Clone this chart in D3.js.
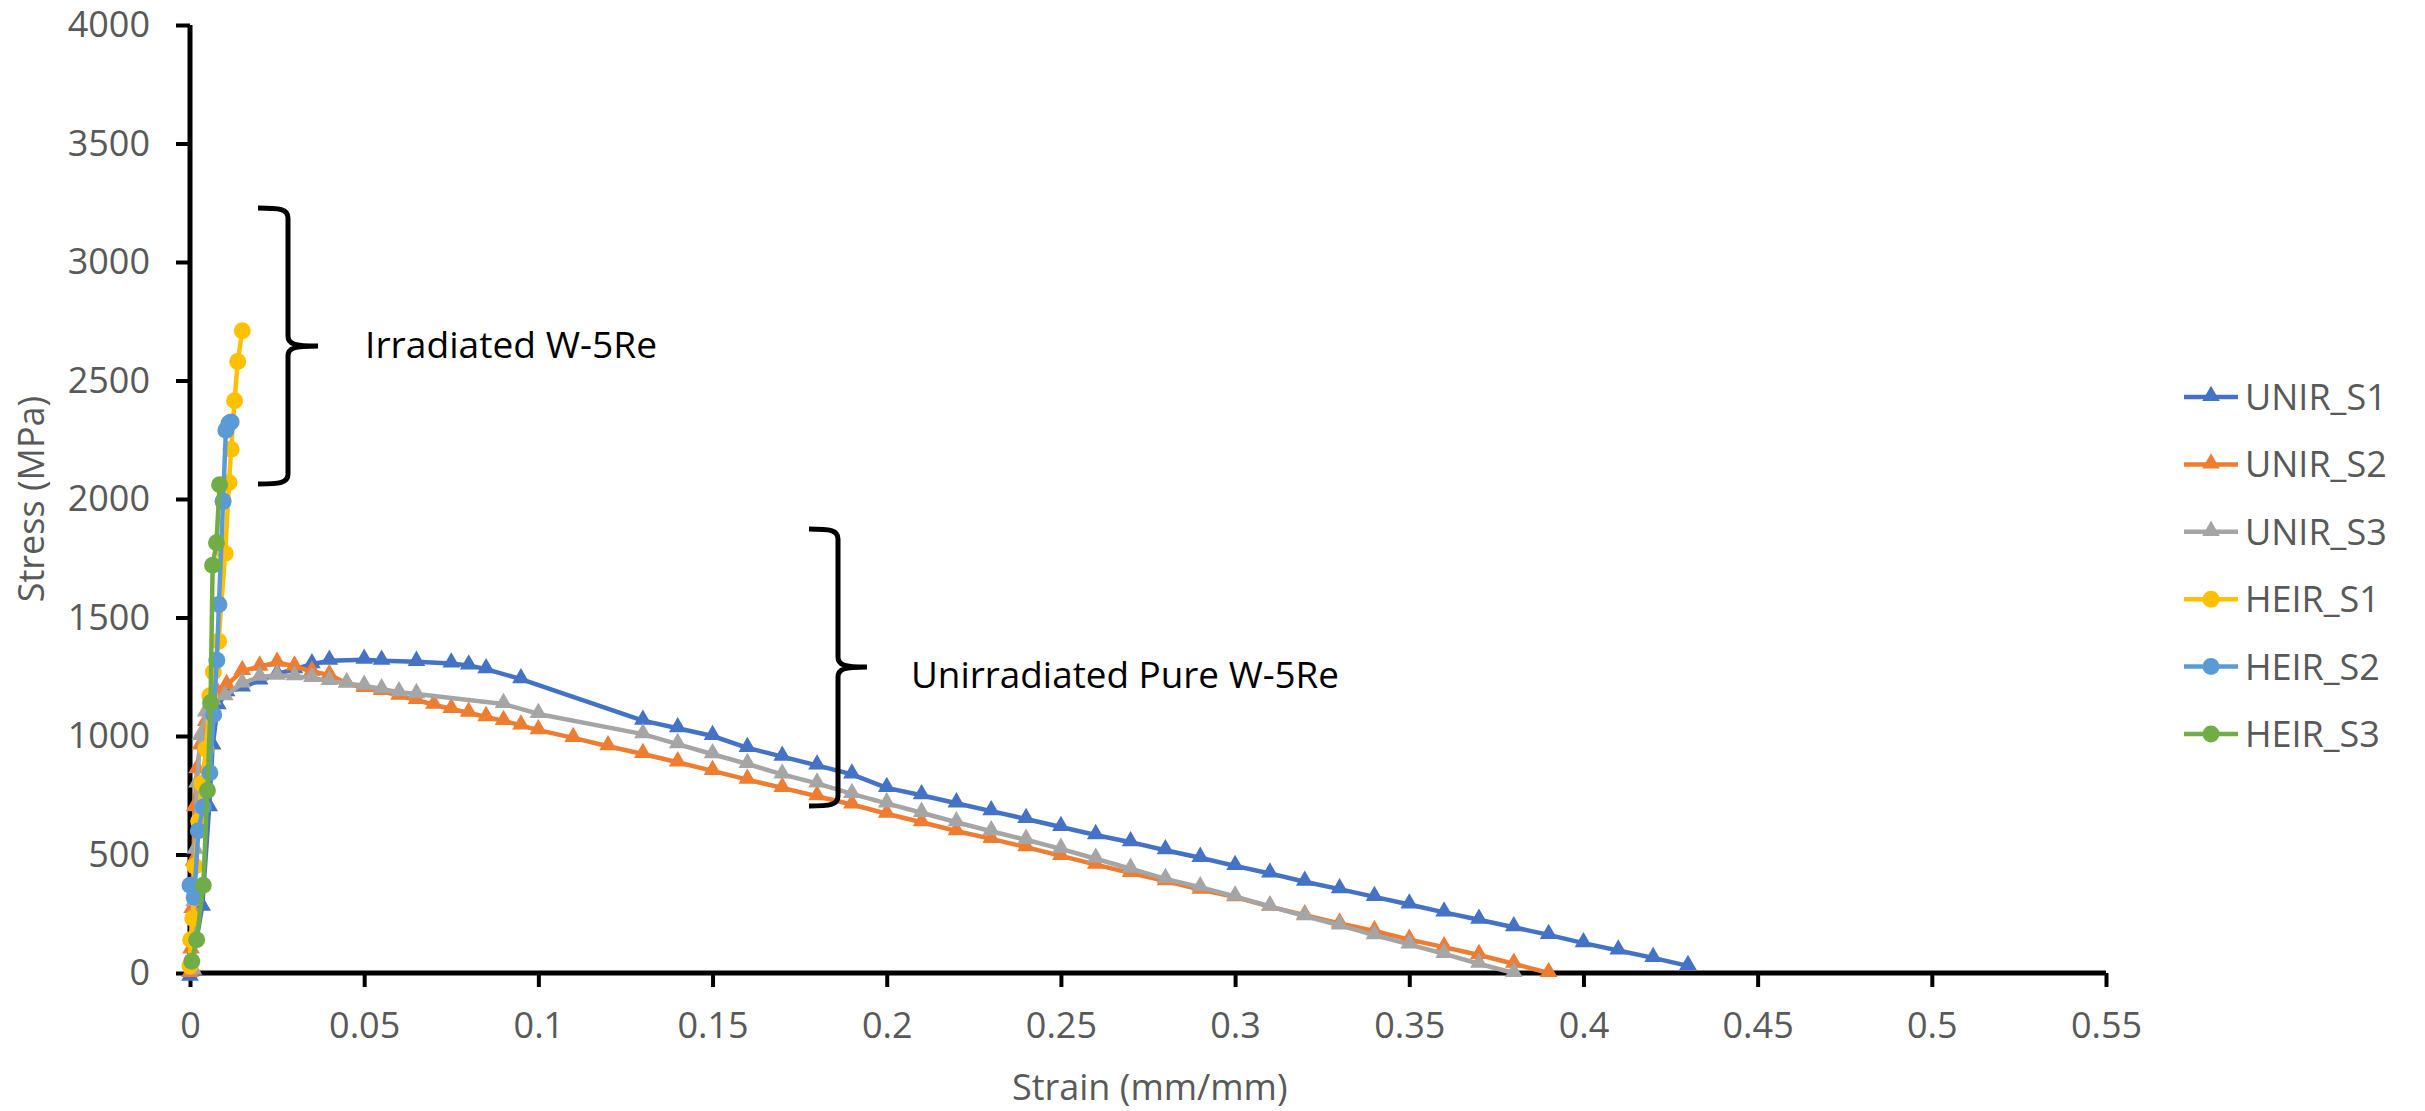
<!DOCTYPE html>
<html>
<head>
<meta charset="utf-8">
<script src="https://cdn.jsdelivr.net/npm/d3@7"></script>
<style>
  body { margin: 0; background: #fff; }
  svg { display: block; }
  text { font-family: "Open Sans", "Noto Sans", sans-serif; }
</style>
</head>
<body>
<div id="chart"></div>
<script>
// values
const unirS1Strain = [0, 0.0035, 0.0055, 0.0065, 0.008, 0.0105, 0.015, 0.02, 0.025, 0.03, 0.035, 0.04, 0.05, 0.055, 0.065, 0.075, 0.08, 0.085, 0.095,
  0.13, 0.14, 0.15, 0.16, 0.17, 0.18, 0.19, 0.2, 0.21, 0.22, 0.23, 0.24, 0.25, 0.26, 0.27, 0.28, 0.29, 0.3, 0.31, 0.32, 0.33, 0.34, 0.35, 0.36, 0.37, 0.38, 0.39, 0.4, 0.41, 0.42, 0.43];
const unirS1Stress = [-15, 280, 700, 960, 1130, 1185, 1205, 1235, 1262, 1282, 1303, 1318, 1322, 1318, 1313, 1306, 1298, 1282, 1240,
  1065, 1033, 1000, 950, 913, 876, 838, 781, 750, 716, 683, 650, 616, 582, 552, 518, 486, 452, 420, 385, 354, 321, 289, 256, 225, 193, 161, 126, 95, 64, 30];

const unirS2Strain = [0, 0.0003, 0.0006, 0.001, 0.0013, 0.002, 0.003, 0.0045, 0.006, 0.008, 0.0105, 0.015, 0.02, 0.025, 0.03, 0.035, 0.04, 0.045, 0.05, 0.055, 0.06, 0.065, 0.07, 0.075, 0.08, 0.085, 0.09, 0.095, 0.1,
  0.11, 0.12, 0.13, 0.14, 0.15, 0.16, 0.17, 0.18, 0.19, 0.2, 0.21, 0.22, 0.23, 0.24, 0.25, 0.26, 0.27, 0.28, 0.29, 0.3, 0.31, 0.32, 0.33, 0.34, 0.35, 0.36, 0.37, 0.38, 0.39];
const unirS2Stress = [0, 100, 270, 470, 700, 860, 960, 1060, 1130, 1180, 1215, 1275, 1293, 1310, 1294, 1272, 1258, 1222, 1203, 1190, 1170, 1152, 1132, 1114, 1098, 1080, 1064, 1045, 1025,
  992, 957, 924, 889, 853, 816, 781, 746, 711, 672, 636, 599, 566, 531, 494, 457, 422, 388, 352, 320, 280, 244, 209, 177, 141, 109, 76, 39, 0];

const unirS3Strain = [0.001, 0.0012, 0.0015, 0.002, 0.003, 0.0045, 0.0065, 0.01, 0.015, 0.02, 0.025, 0.03, 0.035, 0.04, 0.045, 0.05, 0.055, 0.06, 0.065, 0.09, 0.1,
  0.13, 0.14, 0.15, 0.16, 0.17, 0.18, 0.19, 0.2, 0.21, 0.22, 0.23, 0.24, 0.25, 0.26, 0.27, 0.28, 0.29, 0.3, 0.31, 0.32, 0.33, 0.34, 0.35, 0.36, 0.37, 0.38];
const unirS3Stress = [10, 300, 520, 800, 1000, 1100, 1150, 1168, 1222, 1250, 1255, 1252, 1245, 1232, 1222, 1212, 1198, 1185, 1177, 1135, 1093,
  1008, 966, 923, 882, 838, 800, 756, 716, 676, 636, 598, 562, 524, 482, 440, 397, 362, 323, 281, 240, 201, 160, 121, 81, 39, 0];

const heirS1Strain = [0, 0.0002, 0.0008, 0.0014, 0.0025, 0.0034, 0.0046, 0.0057, 0.0067, 0.0082, 0.0101, 0.0112, 0.0118, 0.0128, 0.0137, 0.015];
const heirS1Stress = [30, 140, 230, 450, 640, 800, 945, 1170, 1270, 1400, 1770, 2070, 2210, 2415, 2580, 2710];

const heirS2Strain = [0, 0.0012, 0.0024, 0.0038, 0.0057, 0.0068, 0.0077, 0.0083, 0.0095, 0.0103, 0.0112, 0.0118];
const heirS2Stress = [370, 320, 600, 700, 845, 1090, 1320, 1555, 1990, 2290, 2320, 2325];

const heirS3Strain = [0.0005, 0.0019, 0.0038, 0.005, 0.0059, 0.0065, 0.0076, 0.0085];
const heirS3Stress = [50, 140, 370, 770, 1140, 1720, 1815, 2060];

const seriesNames = ["UNIR_S1", "UNIR_S2", "UNIR_S3", "HEIR_S1", "HEIR_S2", "HEIR_S3"];
const seriesColors = ["#4472C4", "#ED7D31", "#A5A5A5", "#FFC000", "#5B9BD5", "#70AD47"];
const seriesMarkers = ["triangle", "triangle", "triangle", "circle", "circle", "circle"];

const xTicks = [0, 0.05, 0.1, 0.15, 0.2, 0.25, 0.3, 0.35, 0.4, 0.45, 0.5, 0.55];
const xTickLabels = ["0", "0.05", "0.1", "0.15", "0.2", "0.25", "0.3", "0.35", "0.4", "0.45", "0.5", "0.55"];
const yTicks = [0, 500, 1000, 1500, 2000, 2500, 3000, 3500, 4000];

const xTitle = "Strain (mm/mm)";
const yTitle = "Stress (MPa)";
const noteIrr = "Irradiated W-5Re";
const noteUnirr = "Unirradiated Pure W-5Re";

const W = 2425, H = 1111;
const strains = [unirS1Strain, unirS2Strain, unirS3Strain, heirS1Strain, heirS2Strain, heirS3Strain];
const stresses = [unirS1Stress, unirS2Stress, unirS3Stress, heirS1Stress, heirS2Stress, heirS3Stress];
const series = seriesNames.map((name, i) => ({
    name: name,
    color: seriesColors[i],
    marker: seriesMarkers[i],
    points: strains[i].map((s, j) => [s, stresses[i][j]])
}));

const svg = d3.select("#chart").append("svg")
    .attr("width", W)
    .attr("height", H);

const x = d3.scaleLinear().domain([0, 0.55]).range([190, 2106]);
const y = d3.scaleLinear().domain([0, 4000]).range([973, 25]);

// axes
const xAxis = svg.append("g")
    .attr("transform", "translate(0," + y(0) + ")")
    .call(d3.axisBottom(x).tickValues(xTicks).tickSize(14).tickFormat((d, i) => xTickLabels[i]));
const yAxis = svg.append("g")
    .attr("transform", "translate(" + x(0) + ",0)")
    .call(d3.axisLeft(y).tickValues(yTicks).tickSize(14).tickFormat(d3.format("d")));

[xAxis, yAxis].forEach(g => {
    g.select(".domain").attr("stroke", "#000").attr("stroke-width", 5);
    g.selectAll(".tick line").attr("stroke", "#000").attr("stroke-width", 4);
    g.selectAll(".tick text")
        .attr("fill", "#595959")
        .attr("font-size", 36)
        .attr("font-family", "Open Sans");
});
xAxis.selectAll(".tick text").attr("y", 39);
yAxis.selectAll(".tick text").attr("x", -40);
// flat domain lines, no outer ticks
xAxis.select(".domain").attr("d", "M" + x(0) + ",0H" + x(0.55));
yAxis.select(".domain").attr("d", "M0," + y(0) + "V" + y(4000));

svg.append("text")
    .attr("x", x(0.2755))
    .attr("y", 1100)
    .attr("text-anchor", "middle")
    .attr("fill", "#595959")
    .attr("font-size", 36)
    .text(xTitle);

svg.append("text")
    .attr("transform", "translate(44," + y(2000) + ") rotate(-90)")
    .attr("text-anchor", "middle")
    .attr("fill", "#595959")
    .attr("font-size", 36)
    .text(yTitle);

// series
const line = d3.line().x(d => x(d[0])).y(d => y(d[1]));
const tri = d3.symbol(d3.symbolTriangle, 135);

series.forEach(s => {
    let g = svg.append("g").attr("class", "series");
    g.append("path")
        .attr("d", line(s.points))
        .attr("fill", "none")
        .attr("stroke", s.color)
        .attr("stroke-width", 4.5)
        .attr("stroke-linejoin", "round");
    if (s.marker === "triangle") {
        g.selectAll("path.mk").data(s.points).enter()
            .append("path").attr("class", "mk")
            .attr("d", tri)
            .attr("transform", d => "translate(" + x(d[0]) + "," + (y(d[1]) - 1) + ")")
            .attr("fill", s.color);
    } else {
        g.selectAll("circle").data(s.points).enter()
            .append("circle")
            .attr("cx", d => x(d[0]))
            .attr("cy", d => y(d[1]))
            .attr("r", 8.5)
            .attr("fill", s.color);
    }
});

// curly braces with notes
function brace(x0, x1, xt, y0, ym, y1) {
    let r = 10;
    return "M" + x0 + "," + y0 +
        "C" + (x1 - 8) + "," + y0 + " " + x1 + "," + (y0 + 1) + " " + x1 + "," + (y0 + r) +
        "V" + (ym - r) +
        "C" + x1 + "," + (ym - 2) + " " + (x1 + 6) + "," + ym + " " + xt + "," + ym +
        "M" + xt + "," + ym +
        "C" + (x1 + 6) + "," + ym + " " + x1 + "," + (ym + 2) + " " + x1 + "," + (ym + r) +
        "V" + (y1 - r) +
        "C" + x1 + "," + (y1 - 1) + " " + (x1 - 8) + "," + y1 + " " + x0 + "," + y1;
}

svg.append("path")
    .attr("d", brace(258, 288, 318, 208, 346, 484))
    .attr("fill", "none").attr("stroke", "#000").attr("stroke-width", 5);
svg.append("text")
    .attr("x", 365).attr("y", 358)
    .attr("font-size", 36).attr("fill", "#000")
    .attr("textLength", 292).attr("lengthAdjust", "spacingAndGlyphs")
    .text(noteIrr);

svg.append("path")
    .attr("d", brace(809, 838, 867, 529, 667, 806))
    .attr("fill", "none").attr("stroke", "#000").attr("stroke-width", 5);
svg.append("text")
    .attr("x", 911).attr("y", 688)
    .attr("font-size", 36).attr("fill", "#000")
    .attr("textLength", 428).attr("lengthAdjust", "spacingAndGlyphs")
    .text(noteUnirr);

// legend
const legend = svg.append("g").attr("class", "legend");
series.forEach((s, i) => {
    let ly = 397 + i * 67.4;
    let row = legend.append("g").attr("transform", "translate(2184," + ly + ")");
    row.append("line")
        .attr("x1", 0).attr("x2", 54)
        .attr("stroke", s.color).attr("stroke-width", 4.5);
    if (s.marker === "triangle") {
        row.append("path").attr("d", tri).attr("transform", "translate(27,-1)").attr("fill", s.color);
    } else {
        row.append("circle").attr("cx", 27).attr("r", 8.5).attr("fill", s.color);
    }
    row.append("text")
        .attr("x", 61).attr("y", 13)
        .attr("font-size", 36).attr("fill", "#595959")
        .text(s.name);
});
</script>
</body>
</html>
